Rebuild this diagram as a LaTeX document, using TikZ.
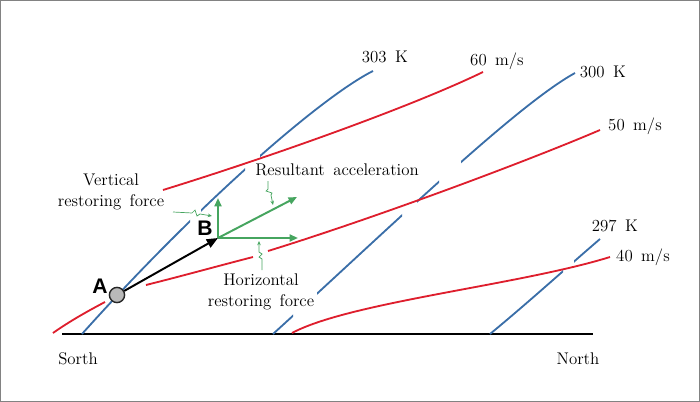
\documentclass[tikz,border=0pt]{standalone}
\usepackage{fontspec}
\usepackage{xcolor}
\usetikzlibrary{arrows.meta}
\newfontfamily\pointfont{Liberation Sans}
\definecolor{IsoBlue}{RGB}{58,110,168}
\definecolor{WindRed}{RGB}{222,30,45}
\definecolor{ForceGreen}{RGB}{70,165,95}
\definecolor{FrameGray}{RGB}{130,130,130}

\begin{document}
\begin{tikzpicture}[x=0.025cm, y=-0.025cm,
    isentrope/.style={IsoBlue, line width=1.3pt},
    isotach/.style={WindRed, line width=1.3pt},
    force/.style={ForceGreen, line width=1.4pt, -{Triangle[length=6pt,width=5pt]}},
    leader/.style={ForceGreen, line width=0.5pt, -{Stealth[length=3pt,width=2.5pt]}},
    lbl/.style={font=\fontsize{12}{14.5}\selectfont, align=center, inner sep=1pt},
    pointlbl/.style={font=\pointfont\bfseries\fontsize{15}{18}\selectfont, inner sep=0pt}]
    \useasboundingbox (0,0) rectangle (700,402);
    \draw[FrameGray, line width=1pt] (0.6,0.6) rectangle (699.4,401.4);

    % ground
    \draw[line width=1.8pt] (62,334) -- (593,334);

    % isentropes (blue), broken where they cross
    \begin{scope}
        \clip (0,0) rectangle (190,402) (201,0) rectangle (245,402) (260,0) rectangle (700,402);
        \draw[isentrope] (82,334) .. controls (202,200) and (323,96) .. (373,71);
    \end{scope}
    \begin{scope}
        \clip (0,0) rectangle (293,402) (317,0) rectangle (402,402) (417,0) rectangle (439,402) (461,0) rectangle (700,402);
        \draw[isentrope] (273,334) .. controls (383,234) and (515,106) .. (575,73);
    \end{scope}
    \begin{scope}
        \clip (0,0) rectangle (563,402) (574,0) rectangle (700,402);
        \draw[isentrope] (490,334) .. controls (530,301) and (565,269) .. (600,239);
    \end{scope}

    % isotachs (red)
    \draw[isotach] (163,190) .. controls (273,156) and (413,106) .. (483,72);
    \draw[isotach] (53,333) .. controls (70,321) and (88,311) .. (105,302);
    \draw[isotach] (146,285) .. controls (182,276) and (218,266) .. (253,257);
    \draw[isotach] (268,251) .. controls (378,217) and (530,160) .. (600,130);
    \draw[isotach] (292,333) .. controls (350,302) and (520,285) .. (610,257);

    \node[lbl] (k303) at (385,57) {303\enspace K};
    \node[lbl] (k300) at (603,72) {300\enspace K};
    \node[lbl] (k297) at (615,226) {297\enspace K};
    \node[lbl] (v60) at (497,61) {60\enspace m/s};
    \node[lbl] (v50) at (635,126) {50\enspace m/s};
    \node[lbl] (v40) at (643,257) {40\enspace m/s};
    \node[lbl] (south) at (78,359) {Sorth};
    \node[lbl] (north) at (578,359) {North};

    % parcel A -> B
    \node[circle, draw=black!85, fill=gray!55, line width=1pt, minimum size=0.38cm, inner sep=0pt] (ptA) at (117,295) {};
    \coordinate (ptB) at (218,238);
    \node[pointlbl] (labA) at (100,286) {A};
    \node[pointlbl] (labB) at (205,228) {B};
    \draw[line width=1.4pt, -{Triangle[length=8pt,width=6.5pt]}] (ptA) -- (ptB);

    \coordinate (vtip) at (218,198);
    \coordinate (htip) at (298,238);
    \coordinate (rtip) at (297,197);
    \draw[force] (ptB) -- (vtip);
    \draw[force] (ptB) -- (htip);
    \draw[force] (ptB) -- (rtip);

    \node[lbl] (vtxt) at (111,192) {Vertical\\restoring\enspace force};
    \node[lbl] (rtxt) at (337,170) {Resultant\enspace acceleration};
    \node[lbl] (htxt) at (261,292) {Horizontal\\restoring\enspace force};

    % leaders
    \coordinate (vlead) at (173,212);
    \coordinate (rlead) at (268,181);
    \coordinate (hlead) at (262,270);
    \draw[leader] (vlead) -- ++(19,1) -- ++(3,-3) -- ++(2,6) -- ++(3,-2) -- ++(12,2);
    \draw[leader] (rlead) -- ++(0,8) -- ++(-2,2) -- ++(6,2) -- ++(-1,2) -- ++(2,10);
    \draw[leader] (hlead) -- ++(0,-11) -- ++(-3,-2) -- ++(3,-3) -- ++(-3,-2) -- ++(0,-11);
\end{tikzpicture}
\end{document}
